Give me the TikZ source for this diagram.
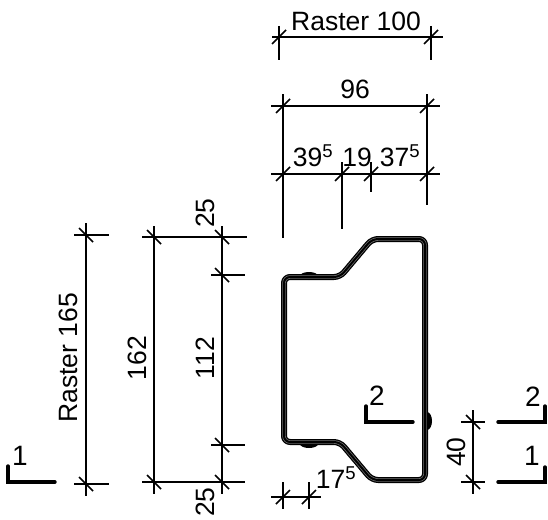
\documentclass[tikz,border=0pt]{standalone}
\usepackage{fontspec}
\setmainfont{Liberation Sans}
\newcommand{\dtick}[1]{\draw[tickline] ($(#1)+(-7,7)$) -- ($(#1)+(7,-7)$);}
\newcommand{\ttick}[1]{\draw[tickline] ($(#1)+(-7,-7)$) -- ($(#1)+(7,7)$);}
\usetikzlibrary{calc}
\tikzset{
  dimline/.style={line width=1.1pt,black},
  tickline/.style={line width=1.6pt,black},
  secline/.style={line width=3.4pt,black,line cap=round,line join=miter},
  lab/.style={font=\fontsize{26.5}{26.5}\selectfont,inner sep=0pt,text=black},
  slab/.style={font=\fontsize{28}{28}\selectfont,inner sep=0pt,text=black},
}
\newcommand{\profilepath}{(284,277) -- (340,277) -- (372,239) -- (425,239) -- (425,480) -- (372,480) -- (340,442) -- (284,442) -- cycle}
\begin{document}
\begin{tikzpicture}[x=1pt,y=-1pt]
\useasboundingbox (0,0) rectangle (548,519);
% reference points
\foreach \n/\x/\y in {ra/279/37,rb/431/37,na/283/106,nb/427/106,ca/283/174,cb/342/174,cc/371/174,cd/427/174,
  la/86/235,lb/86/484,ma/154/237,mb/154/482,pa/222/237,pb/222/275,pc/222/445,pd/222/482,
  fa/473/422,fb/473/482,ga/283/497,gb/309/497}
  {\coordinate (\n) at (\x,\y);}
% profile
\fill[black] (309,276) ellipse (9 and 4);
\fill[black] (309,444) ellipse (9 and 4);
\fill[black] (427,421) ellipse (5 and 9);
\draw[black,line width=6pt,rounded corners=6pt,line join=round] \profilepath;
\draw[white!45!black,line width=3.4pt,rounded corners=6pt] \profilepath;
\draw[black,line width=2pt,rounded corners=6pt] \profilepath;
% Raster 100
\draw[dimline] (272,37) -- (443,37);
\draw[dimline] (ra |- 0,26) -- (ra |- 0,60);
\draw[dimline] (rb |- 0,26) -- (rb |- 0,60);
\dtick{ra}\dtick{rb}
% 96
\draw[dimline] (271,106) -- (440,106);
\draw[dimline] (na |- 0,94) -- (na |- 0,238);
\draw[dimline] (nb |- 0,94) -- (nb |- 0,205);
\dtick{na}\dtick{nb}
% chain
\draw[dimline] (271,174) -- (440,174);
\draw[dimline] (cb |- 0,162) -- (cb |- 0,229);
\draw[dimline] (cc |- 0,162) -- (cc |- 0,192);
\dtick{ca}\dtick{cb}\dtick{cc}\dtick{cd}
% Raster 165
\draw[dimline] (la |- 0,223) -- (la |- 0,496);
\draw[dimline] (74,235) -- (109,235);
\draw[dimline] (74,484) -- (109,484);
\ttick{la}\ttick{lb}
% 162
\draw[dimline] (ma |- 0,226) -- (ma |- 0,494);
\draw[dimline] (142,237) -- (247,237);
\draw[dimline] (142,482) -- (245,482);
\ttick{ma}\ttick{mb}
% 25 112 25
\draw[dimline] (pa |- 0,226) -- (pa |- 0,494);
\draw[dimline] (211,275) -- (245,275);
\draw[dimline] (211,445) -- (245,445);
\ttick{pa}\ttick{pb}\ttick{pc}\ttick{pd}
% 40
\draw[dimline] (fa |- 0,410) -- (fa |- 0,494);
\draw[dimline] (461,422) -- (485,422);
\draw[dimline] (461,482) -- (485,482);
\ttick{fa}\ttick{fb}
% 17.5
\draw[dimline] (271,497) -- (321,497);
\draw[dimline] (ga |- 0,482) -- (ga |- 0,509);
\draw[dimline] (gb |- 0,482) -- (gb |- 0,509);
\dtick{ga}\dtick{gb}
% section marks
\draw[secline] (8,466) -- (8,482) -- (55,482);
\draw[secline] (366,406) -- (366,422) -- (413,422);
\draw[secline] (545,406) -- (545,422) -- (498,422);
\draw[secline] (545,467) -- (545,482) -- (498,482);
% labels
\node[lab] (traster) at (356,21) {Raster 100};
\node[lab] (tnn) at (355,89) {96};
\node[lab] (ta) at (313,156) {39\textsuperscript{5}};
\node[lab] (tb) at (357,157) {19};
\node[lab] (tc) at (400,156) {37\textsuperscript{5}};
\node[lab,rotate=90] (tr) at (68,358) {Raster 165};
\node[lab,rotate=90] (t162) at (137,358) {162};
\node[lab,rotate=90] (t112) at (205,358) {112};
\node[lab,rotate=90] (t25a) at (205,213) {25};
\node[lab,rotate=90] (t25b) at (205,502) {25};
\node[lab,rotate=90] (t40) at (456,452) {40};
\node[lab] (t175) at (336,478) {17\textsuperscript{5}};
\node[slab] (s1) at (20,456) {1};
\node[slab] (s2) at (377,396) {2};
\node[slab] (s3) at (533,397) {2};
\node[slab] (s4) at (532,456) {1};
\end{tikzpicture}
\end{document}
